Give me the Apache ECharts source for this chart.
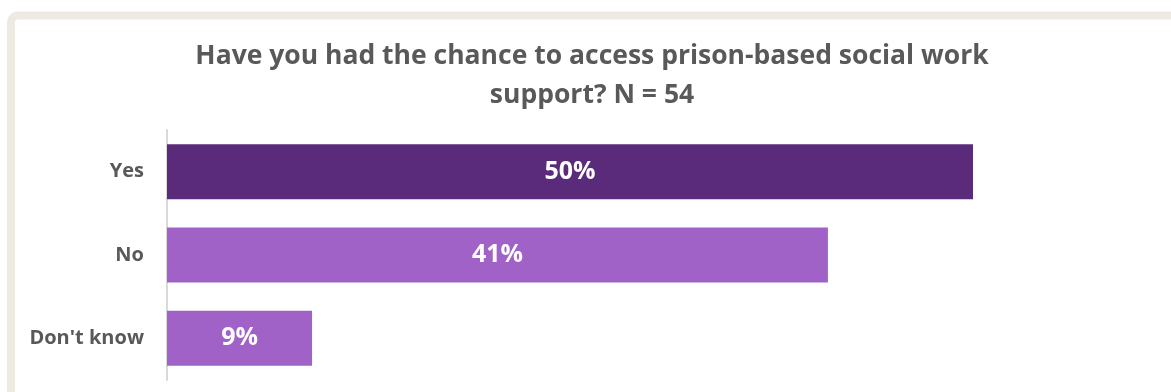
<!DOCTYPE html>
<html>
<head>
<meta charset="utf-8">
<title>Prison-based social work support</title>
<script src="https://cdn.jsdelivr.net/npm/echarts@6/dist/echarts.min.js"></script>
<style>
  html, body { margin: 0; padding: 0; background: #ffffff; }
  #chart { width: 1171px; height: 392px; }
</style>
</head>
<body>
<div id="chart"></div>
<script>
// Survey answers (share of respondents, %)
const categories = ['Yes', 'No', "Don't know"];
const percentages = [50, 41, 9];
const titleLines = ['Have you had the chance to access prison-based social work', 'support? N = 54'];

const barColors = ['#5B2B7B', '#A162C8', '#A162C8'];
const textGray = '#595959';
const fontFamily = '"Open Sans", "Noto Sans", sans-serif';

const chart = echarts.init(document.getElementById('chart'), null, { renderer: 'canvas' });

chart.setOption({
  animation: false,
  backgroundColor: '#ffffff',
  graphic: [
    {
      // cream frame around the chart area
      type: 'rect',
      z: -10,
      silent: true,
      shape: { x: 11, y: 15.5, width: 1400, height: 600, r: 7 },
      style: { fill: '#ffffff', stroke: '#EDEBE1', lineWidth: 8 }
    },
    {
      type: 'text',
      x: 592,
      y: 56,
      style: {
        text: titleLines[0],
        align: 'center',
        verticalAlign: 'middle',
        fill: textGray,
        font: 'bold 26.5px ' + fontFamily
      }
    },
    {
      type: 'text',
      x: 592,
      y: 95.5,
      style: {
        text: titleLines[1],
        align: 'center',
        verticalAlign: 'middle',
        fill: textGray,
        font: 'bold 26.5px ' + fontFamily
      }
    }
  ],
  grid: { left: 167, right: 198, top: 130, bottom: 12, containLabel: false },
  xAxis: {
    type: 'value',
    min: 0,
    max: 50,
    show: false,
    splitLine: { show: false }
  },
  yAxis: {
    type: 'category',
    data: categories,
    inverse: true,
    axisLine: { show: true, lineStyle: { color: '#D9D9D9', width: 2 } },
    axisTick: { show: false },
    axisLabel: {
      color: textGray,
      fontFamily: fontFamily,
      fontWeight: 'bold',
      fontSize: 20,
      margin: 23
    }
  },
  series: [
    {
      type: 'bar',
      barWidth: 55,
      data: percentages.map((v, i) => ({ value: v, itemStyle: { color: barColors[i] } })),
      label: {
        show: true,
        position: 'inside',
        formatter: p => p.value + '%',
        color: '#ffffff',
        fontFamily: fontFamily,
        fontWeight: 'bold',
        fontSize: 25
      }
    }
  ]
});
</script>
</body>
</html>
